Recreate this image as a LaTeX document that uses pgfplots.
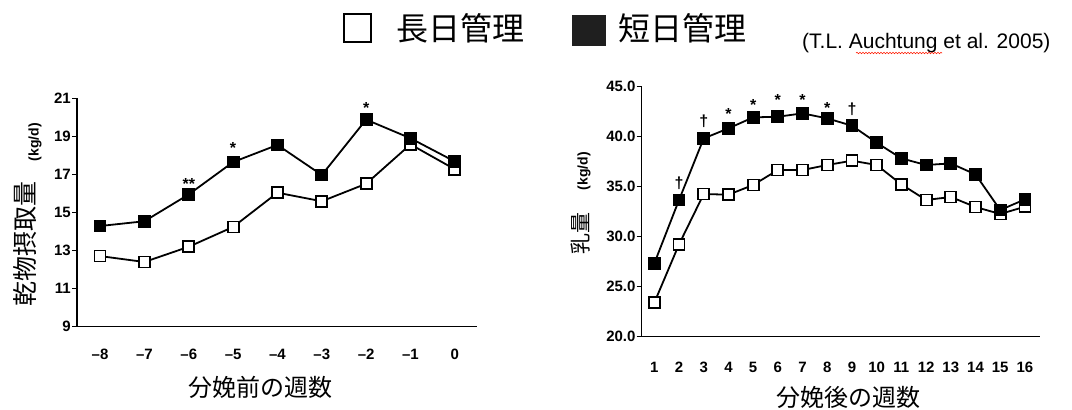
\documentclass[border=0pt]{standalone}
\usepackage{pgfplots}
\pgfplotsset{compat=1.18}
\usepackage{fontspec}
\setmainfont{Liberation Sans}
\newfontfamily\jp{Noto Sans CJK JP}
\usetikzlibrary{decorations.pathmorphing}

\pgfplotsset{
  cowaxis/.style={
    scale only axis, anchor=south west,
    axis lines=left, axis line style={line width=1.4pt,-},
    tick align=outside, major tick length=5pt,
    y tick style={line width=1.2pt, black},
    x tick style={draw=none},
    /pgf/number format/assume math mode=true,
    ticklabel style={font=\bfseries\fontsize{15}{15}\selectfont},
    yticklabel style={inner sep=1pt},
    every axis plot/.append style={line width=1.8pt, black, mark size=5.5pt},
    clip=false,
  },
  longday/.style={mark=square*, mark options={fill=white, line width=1.8pt, solid}},
  shortday/.style={mark=square*, mark options={fill=black, line width=1.8pt, solid}},
}

\begin{document}
\begin{tikzpicture}
\path[use as bounding box] (0pt,0pt) rectangle (1072pt,410pt);

% legend and citation
\draw[line width=2pt] (344pt,368pt) rectangle (371pt,396pt);
\node[anchor=west, font=\jp\fontsize{32}{32}\selectfont, inner sep=0pt] at (396pt,381.5pt) {長日管理};
\fill[black!88] (572pt,364pt) rectangle (606pt,395pt);
\node[anchor=west, font=\jp\fontsize{32}{32}\selectfont, inner sep=0pt] at (618pt,381.5pt) {短日管理};
\node[anchor=west, font=\fontsize{21}{21}\selectfont, inner sep=0pt] at (802pt,367pt) {(T.L. Auchtung et al. 2005)};
\draw[red!80!orange, line width=0.6pt, decorate, decoration={snake, amplitude=0.7pt, segment length=3pt}] (856pt,357pt) -- (942pt,357pt);

% dry matter intake before calving
\begin{axis}[cowaxis,
  at={(77pt,83.3pt)}, width=400pt, height=228.4pt,
  xmin=-8.52, xmax=0.5, ymin=9, ymax=21,
  xtick={-8,-7,-6,-5,-4,-3,-2,-1,0},
  xticklabels={--8,--7,--6,--5,--4,--3,--2,--1,0},
  xticklabel style={yshift=-14pt},
  ytick={9,11,13,15,17,19,21},
]
\addplot[longday] coordinates {
  (-8,12.71) (-7,12.40) (-6,13.20) (-5,14.24) (-4,16.04)
  (-3,15.59) (-2,16.51) (-1,18.58) (0,17.27)};
\addplot[shortday] coordinates {
  (-8,14.29) (-7,14.54) (-6,15.95) (-5,17.65) (-4,18.55)
  (-3,16.97) (-2,19.88) (-1,18.90) (0,17.68)};
\node[anchor=base, yshift=-9pt, font=\bfseries\fontsize{16}{16}\selectfont] at (axis cs:-6,16.7) {**};
\node[anchor=base, yshift=-9pt, font=\bfseries\fontsize{16}{16}\selectfont] at (axis cs:-5,18.55) {*};
\node[anchor=base, yshift=-9pt, font=\bfseries\fontsize{16}{16}\selectfont] at (axis cs:-2,20.7) {*};
\end{axis}
\node[rotate=90, font=\jp\fontsize{25}{25}\selectfont] at (25pt,166pt) {乾物摂取量};
\node[rotate=90, font=\bfseries\fontsize{14}{14}\selectfont] at (35pt,268pt) {(kg/d)};
\node[font=\jp\fontsize{24}{24}\selectfont] at (260pt,23pt) {分娩前の週数};

% milk yield after calving
\begin{axis}[cowaxis,
  at={(641.7pt,73.3pt)}, width=398.3pt, height=250pt,
  xmin=0.49, xmax=16.61, ymin=20, ymax=45,
  xtick={1,...,16},
  xticklabel style={yshift=-17pt},
  ytick={20,25,30,35,40,45},
  yticklabels={20.0,25.0,30.0,35.0,40.0,45.0},
]
\addplot[longday] coordinates {
  (1,23.40) (2,29.23) (3,34.27) (4,34.20) (5,35.17) (6,36.67)
  (7,36.67) (8,37.17) (9,37.60) (10,37.17) (11,35.23) (12,33.67)
  (13,33.97) (14,32.97) (15,32.27) (16,33.00)};
\addplot[shortday] coordinates {
  (1,27.33) (2,33.67) (3,39.83) (4,40.83) (5,41.93) (6,42.00)
  (7,42.33) (8,41.83) (9,41.10) (10,39.40) (11,37.83) (12,37.17)
  (13,37.33) (14,36.23) (15,32.67) (16,33.73)};
\node[anchor=base, yshift=-5pt, font=\bfseries\fontsize{16}{16}\selectfont] at (axis cs:2,35.34) {†};
\node[anchor=base, yshift=-5pt, font=\bfseries\fontsize{16}{16}\selectfont] at (axis cs:3,41.54) {†};
\node[anchor=base, yshift=-5pt, font=\bfseries\fontsize{16}{16}\selectfont] at (axis cs:9,42.67) {†};
\node[anchor=base, yshift=-9pt, font=\bfseries\fontsize{16}{16}\selectfont] at (axis cs:4,42.57) {*};
\node[anchor=base, yshift=-9pt, font=\bfseries\fontsize{16}{16}\selectfont] at (axis cs:5,43.5) {*};
\node[anchor=base, yshift=-9pt, font=\bfseries\fontsize{16}{16}\selectfont] at (axis cs:6,44.0) {*};
\node[anchor=base, yshift=-9pt, font=\bfseries\fontsize{16}{16}\selectfont] at (axis cs:7,44.0) {*};
\node[anchor=base, yshift=-9pt, font=\bfseries\fontsize{16}{16}\selectfont] at (axis cs:8,43.24) {*};
\end{axis}
\node[rotate=90, font=\jp\fontsize{21}{21}\selectfont] at (581pt,176pt) {乳量};
\node[rotate=90, font=\bfseries\fontsize{14}{14}\selectfont] at (584pt,239pt) {(kg/d)};
\node[font=\jp\fontsize{24}{24}\selectfont] at (848pt,13pt) {分娩後の週数};
\end{tikzpicture}
\end{document}
